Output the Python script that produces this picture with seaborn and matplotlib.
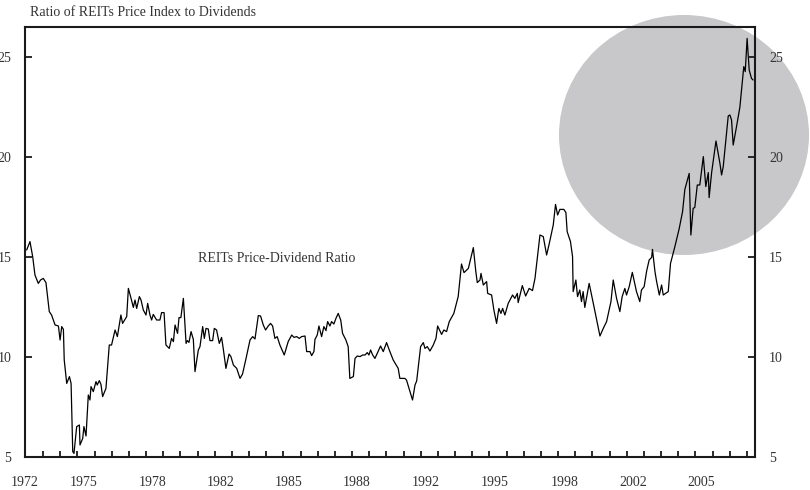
import matplotlib
matplotlib.use("Agg")
import matplotlib.pyplot as plt
from matplotlib.patches import Ellipse
from matplotlib.ticker import FixedLocator, FixedFormatter
import seaborn as sns
import pandas as pd

# REITs price / dividend ratio (decimal years)
years = [
    1972.08, 1972.24, 1972.37, 1972.48, 1972.64, 1972.75, 1972.88, 1973.01, 1973.17, 1973.28,
    1973.45, 1973.61, 1973.69, 1973.77, 1973.85, 1973.89, 1974.01, 1974.14, 1974.22, 1974.30,
    1974.36, 1974.49, 1974.62, 1974.65, 1974.78, 1974.84, 1974.94, 1975.05, 1975.13, 1975.18,
    1975.29, 1975.42, 1975.48, 1975.58, 1975.66, 1975.74, 1975.90, 1976.06, 1976.17, 1976.34,
    1976.45, 1976.62, 1976.70, 1976.90, 1976.98, 1977.11, 1977.22, 1977.30, 1977.38, 1977.51,
    1977.59, 1977.70, 1977.83, 1977.91, 1978.02, 1978.10, 1978.18, 1978.34, 1978.50, 1978.58,
    1978.70, 1978.79, 1978.95, 1979.06, 1979.15, 1979.23, 1979.35, 1979.42, 1979.51, 1979.63,
    1979.76, 1979.82, 1979.90, 1980.00, 1980.11, 1980.19, 1980.35, 1980.43, 1980.56, 1980.64,
    1980.72, 1980.83, 1980.91, 1981.04, 1981.12, 1981.23, 1981.36, 1981.47, 1981.55, 1981.68,
    1981.83, 1981.92, 1982.04, 1982.20, 1982.36, 1982.48, 1982.65, 1982.84, 1982.97, 1983.08,
    1983.24, 1983.35, 1983.48, 1983.59, 1983.72, 1983.83, 1983.93, 1984.04, 1984.15, 1984.28,
    1984.49, 1984.68, 1984.85, 1984.96, 1985.09, 1985.21, 1985.33, 1985.49, 1985.57, 1985.73,
    1985.81, 1985.92, 1985.97, 1986.08, 1986.16, 1986.29, 1986.40, 1986.50, 1986.58, 1986.69,
    1986.77, 1986.88, 1986.98, 1987.09, 1987.21, 1987.30, 1987.46, 1987.57, 1987.65, 1987.82,
    1987.90, 1988.01, 1988.14, 1988.27, 1988.38, 1988.49, 1988.57, 1988.65, 1988.75, 1988.86,
    1988.97, 1989.13, 1989.26, 1989.42, 1989.55, 1989.74, 1989.98, 1990.06, 1990.30, 1990.38,
    1990.67, 1990.79, 1990.87, 1991.06, 1991.19, 1991.27, 1991.38, 1991.51, 1991.67, 1991.80,
    1991.88, 1992.07, 1992.18, 1992.31, 1992.44, 1992.66, 1992.87, 1993.03, 1993.15, 1993.36,
    1993.60, 1993.72, 1993.79, 1993.92, 1993.97, 1994.08, 1994.24, 1994.29, 1994.48, 1994.59,
    1994.72, 1994.83, 1994.93, 1995.01, 1995.12, 1995.28, 1995.49, 1995.60, 1995.72, 1995.76,
    1995.96, 1996.12, 1996.29, 1996.45, 1996.57, 1996.81, 1996.97, 1997.13, 1997.26, 1997.45,
    1997.56, 1997.66, 1997.77, 1997.96, 1998.06, 1998.12, 1998.28, 1998.38, 1998.41, 1998.54,
    1998.62, 1998.73, 1998.81, 1998.89, 1998.97, 1999.18, 1999.38, 1999.70, 1999.86, 2000.02,
    2000.23, 2000.34, 2000.50, 2000.66, 2000.77, 2000.90, 2000.98, 2001.11, 2001.26, 2001.46,
    2001.62, 2001.70, 2001.83, 2001.95, 2002.07, 2002.19, 2002.23, 2002.35, 2002.43, 2002.56,
    2002.67, 2002.75, 2002.99, 2003.10, 2003.31, 2003.52, 2003.68, 2003.79, 2004.00, 2004.08,
    2004.19, 2004.27, 2004.39, 2004.51, 2004.68, 2004.80, 2004.92, 2004.96, 2005.08, 2005.29,
    2005.48, 2005.56, 2005.64, 2005.88, 2005.96, 2006.04, 2006.12, 2006.28, 2006.44, 2006.63,
    2006.70, 2006.79, 2006.89, 2007.00, 2007.08,
]
ratio = [
    15.35, 15.77, 15.02, 14.10, 13.68, 13.85, 13.93, 13.72, 12.27, 12.10,
    11.60, 11.55, 10.85, 11.52, 11.38, 9.85, 8.68, 9.02, 8.68, 5.27,
    5.18, 6.52, 6.60, 5.60, 5.93, 6.52, 6.05, 8.10, 7.85, 8.52,
    8.27, 8.77, 8.60, 8.82, 8.63, 8.02, 8.43, 10.60, 10.60, 11.35,
    11.02, 12.10, 11.68, 12.02, 13.43, 12.93, 12.48, 12.85, 12.43, 13.02,
    12.85, 12.35, 12.10, 12.68, 12.10, 11.85, 12.13, 11.85, 11.85, 12.22,
    12.22, 10.60, 10.43, 10.93, 10.77, 11.60, 11.18, 11.97, 11.97, 12.93,
    10.68, 10.82, 10.73, 11.27, 10.88, 9.27, 10.35, 10.52, 11.52, 10.93,
    11.43, 11.40, 10.82, 10.82, 11.43, 11.35, 10.68, 10.98, 10.43, 9.43,
    10.15, 10.02, 9.60, 9.43, 8.93, 9.15, 9.93, 10.85, 11.02, 10.90,
    12.07, 12.05, 11.60, 11.35, 11.55, 11.68, 11.55, 10.93, 11.02, 10.60,
    10.10, 10.77, 11.10, 10.98, 11.02, 10.93, 11.02, 11.05, 10.27, 10.27,
    10.07, 10.27, 10.88, 11.10, 11.55, 11.02, 11.52, 11.32, 11.77, 11.55,
    11.77, 11.65, 11.93, 12.18, 11.85, 11.18, 10.85, 10.52, 8.93, 9.02,
    9.93, 10.05, 10.02, 10.10, 10.10, 10.22, 10.10, 10.35, 10.10, 9.93,
    10.18, 10.55, 10.27, 10.72, 10.35, 9.85, 9.43, 8.93, 8.93, 8.85,
    7.85, 8.60, 8.80, 10.52, 10.72, 10.43, 10.52, 10.30, 10.60, 10.93,
    11.55, 11.13, 11.35, 11.27, 11.77, 12.18, 13.02, 14.65, 14.22, 14.43,
    15.47, 14.27, 13.72, 13.85, 14.18, 13.60, 13.77, 13.18, 13.10, 12.35,
    11.68, 12.43, 12.18, 12.43, 12.10, 12.68, 13.10, 12.93, 13.18, 12.72,
    13.57, 13.05, 13.43, 13.32, 13.93, 16.10, 16.02, 15.10, 15.68, 16.60,
    17.63, 17.10, 17.38, 17.38, 17.22, 16.27, 15.77, 15.02, 13.27, 13.85,
    13.02, 13.35, 12.77, 13.27, 12.48, 13.68, 12.68, 11.05, 11.43, 11.77,
    12.77, 13.85, 12.93, 12.27, 13.02, 13.43, 13.10, 13.52, 14.23, 13.27,
    12.77, 13.35, 13.52, 14.30, 14.85, 14.98, 15.38, 14.27, 13.77, 13.10,
    13.60, 13.10, 13.27, 14.68, 15.52, 16.43, 17.27, 18.38, 19.18, 16.10,
    17.43, 17.48, 18.60, 18.60, 20.02, 18.52, 19.22, 17.97, 19.22, 20.80,
    19.68, 19.10, 19.52, 22.05, 22.10, 21.85, 20.60, 21.52, 22.48, 24.52,
    24.27, 25.93, 24.35, 23.93, 23.85,
]

y_ticks = [5, 10, 15, 20, 25]
x_tick_labels = ["1972", "1975", "1978", "1982", "1985", "1988",
                 "1992", "1995", "1998", "2002", "2005"]
x_label_pos = [1972.0, 1974.8, 1978.15, 1981.45, 1984.7, 1988.0,
               1991.3, 1994.65, 1998.0, 2001.3, 2004.6]
x_minor_pos = [1972.87 + 0.827 * i for i in range(42)]

df = pd.DataFrame({"year": years, "ratio": ratio})

sns.set_style("ticks")
plt.rcParams["font.family"] = ["Liberation Serif", "DejaVu Serif"]
text_col = "#333333"
tick_col = "#1a1a1a"

fig = plt.figure(figsize=(8.1, 4.9), dpi=100)
ax = fig.add_axes([25 / 810, 33 / 490, 730 / 810, 430 / 490])
ax.set_facecolor("none")

# grey disc behind the chart, upper right
fig.patches.append(Ellipse((684 / 810, 1 - 135 / 490), 250 / 810, 240 / 490,
                           transform=fig.transFigure, facecolor="#c8c8ca",
                           edgecolor="none", zorder=-1))

sns.lineplot(data=df, x="year", y="ratio", ax=ax, color="black",
             linewidth=0.9, estimator=None, sort=False)

ax.set_xlim(1972.0, 2007.17)
ax.set_ylim(5, 26.5)
ax.set_xlabel("")
ax.set_ylabel("")

for s in ax.spines.values():
    s.set_linewidth(1.5)
    s.set_color(tick_col)

# labels from the axis machinery, tick marks drawn as short inward strokes
ax.yaxis.set_major_locator(FixedLocator(y_ticks))
ax.yaxis.set_major_formatter(FixedFormatter([str(v) for v in y_ticks]))
ax.tick_params(axis="y", which="major", length=0, left=False, right=False,
               labelleft=True, labelright=True,
               labelsize=10, labelcolor=text_col, pad=10)

ax.xaxis.set_major_locator(FixedLocator(x_label_pos))
ax.xaxis.set_major_formatter(FixedFormatter(x_tick_labels))
ax.tick_params(axis="x", which="major", length=0, pad=14,
               labelsize=10, labelcolor=text_col)

xform = ax.get_xaxis_transform()
yform = ax.get_yaxis_transform()
ax.vlines(x_minor_pos, 0, 0.013, transform=xform, colors=tick_col,
          linewidth=1.3, clip_on=False, zorder=3)
ax.hlines(y_ticks, 0, 0.010, transform=yform, colors=tick_col,
          linewidth=1.3, clip_on=False, zorder=3)
ax.hlines(y_ticks, 0.990, 1.0, transform=yform, colors=tick_col,
          linewidth=1.3, clip_on=False, zorder=3)

ax.text(1980.35, 14.93, "REITs Price-Dividend Ratio", fontsize=10,
        color=text_col, ha="left", va="center")

fig.text(30 / 810, 1 - 13 / 490, "Ratio of REITs Price Index to Dividends",
         fontsize=10, color=text_col, ha="left", va="center")

fig.savefig("out.png", dpi=100, facecolor="white")
